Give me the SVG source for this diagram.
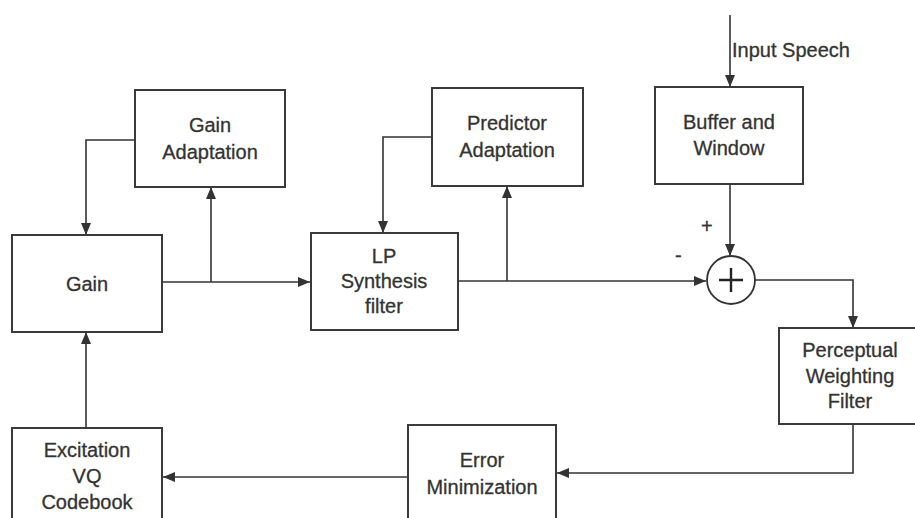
<svg xmlns="http://www.w3.org/2000/svg" width="915" height="518" viewBox="0 0 915 518">
<defs>
<style>
.box{fill:#fff;stroke:#3a3a3a;stroke-width:2}
.ln{fill:none;stroke:#333;stroke-width:1.6}
.t{font-family:"Liberation Sans",Arial,sans-serif;font-size:20px;fill:#333;stroke:#333;stroke-width:0.3;text-anchor:middle}
.s{font-family:"Liberation Sans",Arial,sans-serif;font-size:20px;fill:#333;stroke:#333;stroke-width:0.3}
</style>
<marker id="ar" viewBox="0 0 12 10" refX="12" refY="5" markerWidth="12" markerHeight="10" markerUnits="userSpaceOnUse" orient="auto">
<path d="M0,0 L12,5 L0,10 Z" fill="#333"/>
</marker>
</defs>
<rect width="915" height="518" fill="#fff"/>
<g id="connectors">
<path class="ln" d="M730,15 V87" marker-end="url(#ar)"/>
<path class="ln" d="M730,184 V256" marker-end="url(#ar)"/>
<path class="ln" d="M135,140 H86 V235" marker-end="url(#ar)"/>
<path class="ln" d="M162,282 H310" marker-end="url(#ar)"/>
<path class="ln" d="M211,282 V187" marker-end="url(#ar)"/>
<path class="ln" d="M432,137 H383 V233" marker-end="url(#ar)"/>
<path class="ln" d="M458,281 H706" marker-end="url(#ar)"/>
<path class="ln" d="M507,281 V186" marker-end="url(#ar)"/>
<path class="ln" d="M755,280 H853 V328" marker-end="url(#ar)"/>
<path class="ln" d="M853,424 V473 H557" marker-end="url(#ar)"/>
<path class="ln" d="M408,477 H163" marker-end="url(#ar)"/>
<path class="ln" d="M86,428 V332" marker-end="url(#ar)"/>
</g>
<g id="input-label"><text class="s" x="732" y="57">Input Speech</text></g>
<g id="gain-adaptation"><rect class="box" x="135" y="90" width="150" height="97"/><text class="t" x="210" y="132">Gain</text><text class="t" x="210" y="159">Adaptation</text></g>
<g id="gain"><rect class="box" x="12" y="235" width="150" height="97"/><text class="t" x="87" y="291">Gain</text></g>
<g id="predictor-adaptation"><rect class="box" x="432" y="88" width="151" height="98"/><text class="t" x="507" y="130">Predictor</text><text class="t" x="507" y="157">Adaptation</text></g>
<g id="lp-synthesis"><rect class="box" x="311" y="233" width="147" height="97"/><text class="t" x="384" y="263">LP</text><text class="t" x="384" y="288">Synthesis</text><text class="t" x="384" y="313">filter</text></g>
<g id="buffer-window"><rect class="box" x="655" y="87" width="148" height="97"/><text class="t" x="729" y="129">Buffer and</text><text class="t" x="729" y="155">Window</text></g>
<g id="summer"><circle cx="731" cy="280" r="24" fill="#fff" stroke="#333" stroke-width="1.8"/><path d="M731,268 V292 M719,280 H743" stroke="#222" stroke-width="2.4"/><text class="s" x="701" y="233">+</text><text class="s" x="675" y="262">-</text></g>
<g id="perceptual"><rect class="box" x="779" y="328" width="140" height="96"/><text class="t" x="850" y="357">Perceptual</text><text class="t" x="850" y="383">Weighting</text><text class="t" x="850" y="408">Filter</text></g>
<g id="error-min"><rect class="box" x="408" y="425" width="148" height="100"/><text class="t" x="482" y="467">Error</text><text class="t" x="482" y="494">Minimization</text></g>
<g id="excitation"><rect class="box" x="12" y="428" width="150" height="100"/><text class="t" x="87" y="457">Excitation</text><text class="t" x="87" y="483">VQ</text><text class="t" x="87" y="509">Codebook</text></g>
</svg>
